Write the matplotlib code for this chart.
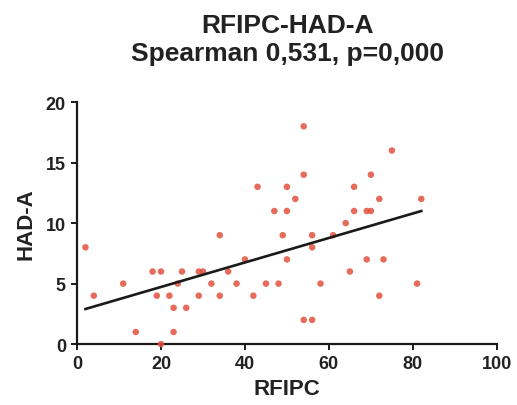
import matplotlib
matplotlib.use("Agg")
import matplotlib.pyplot as plt
import numpy as np

plt.rcParams['font.family'] = ['Liberation Sans', 'DejaVu Sans']

rfipc = [2, 4, 11, 14, 18, 20, 19, 20, 22, 23, 23, 24, 25, 26, 29, 30, 29, 32, 34, 34,
         36, 38, 40, 42, 43, 45, 47, 48, 49, 50, 50, 50, 52, 54, 54, 54, 56, 56, 56, 58,
         61, 64, 65, 66, 66, 69, 70, 69, 70, 72, 72, 73, 75, 81, 82]
had_a = [8, 4, 5, 1, 6, 6, 4, 0, 4, 3, 1, 5, 6, 3, 6, 6, 4, 5, 9, 4,
         6, 5, 7, 4, 13, 5, 11, 5, 9, 13, 11, 7, 12, 18, 14, 2, 2, 9, 8, 5,
         9, 10, 6, 13, 11, 11, 11, 7, 14, 12, 4, 7, 16, 5, 12]

fit_x = [2, 82]
fit_y = [2.9, 11.0]

x_ticks = [0, 20, 40, 60, 80, 100]
y_ticks = [0, 5, 10, 15, 20]

title = "RFIPC-HAD-A\nSpearman 0,531, p=0,000"
xlabel = "RFIPC"
ylabel = "HAD-A"

fig = plt.figure(figsize=(5.17, 4.06), dpi=100)
ax = fig.add_axes([0.149, 0.150, 0.812, 0.596])

ax.scatter(rfipc, had_a, s=22, color='#e2513e', alpha=0.85, edgecolors='none',
           clip_on=False, zorder=3)
ax.plot(fit_x, fit_y, color='#1a1a1a', lw=1.9, zorder=4)

ax.set_xlim(0, 100)
ax.set_ylim(0, 20)
ax.set_xticks(x_ticks)
ax.set_yticks(y_ticks)
for s in ['top', 'right']:
    ax.spines[s].set_visible(False)
for s in ['left', 'bottom']:
    ax.spines[s].set_linewidth(1.6)
    ax.spines[s].set_color('#1a1a1a')
ax.tick_params(axis='both', direction='out', length=4, width=1.4, color='#1a1a1a',
               labelsize=13, labelcolor='#222222', pad=4)
for lab in ax.get_xticklabels() + ax.get_yticklabels():
    lab.set_fontweight('bold')

ax.set_xlabel(xlabel, fontsize=16, fontweight='bold', color='#222222', labelpad=4)
ax.set_ylabel(ylabel, fontsize=16, fontweight='bold', color='#222222', labelpad=7)
fig.text(0.556, 1 - 14 / 406, title, ha='center', va='top', fontsize=19,
         fontweight='bold', color='#222222', linespacing=1.2)

fig.savefig('out.png', dpi=100)
